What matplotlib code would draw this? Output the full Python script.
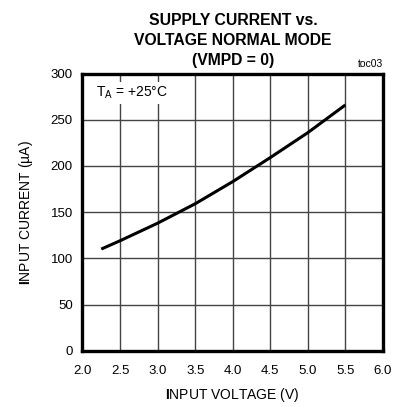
import matplotlib
matplotlib.use('Agg')
import matplotlib.pyplot as plt

plt.rcParams['font.family'] = ['Liberation Sans', 'DejaVu Sans']
plt.rcParams['mathtext.fontset'] = 'custom'
plt.rcParams['mathtext.rm'] = 'Liberation Sans'
plt.rcParams['mathtext.bf'] = 'Liberation Sans:bold'

# 读取的曲线数据
voltage = [2.25, 2.5, 3.0, 3.5, 4.0, 4.5, 5.0, 5.5]
current = [110, 119, 138, 159, 183, 209, 236, 266]

x_ticks = [2.0, 2.5, 3.0, 3.5, 4.0, 4.5, 5.0, 5.5, 6.0]
y_ticks = [0, 50, 100, 150, 200, 250, 300]

fig = plt.figure(figsize=(4.01, 4.07), dpi=100)
ax = fig.add_axes([0.2057, 0.1383, 0.7493, 0.6811])

ax.plot(voltage, current, color='black', linewidth=2.2, solid_capstyle='butt')

ax.set_xlim(2.0, 6.0)
ax.set_ylim(0, 300)
ax.set_xticks(x_ticks)
ax.set_yticks(y_ticks)
ax.set_xticklabels(['%.1f' % v for v in x_ticks], fontsize=9.5)
ax.set_yticklabels([str(v) for v in y_ticks], fontsize=9.5)
ax.tick_params(length=0, pad=7)
ax.tick_params(axis='x', pad=10)
ax.grid(True, color='#444444', linewidth=1.0)
ax.set_axisbelow(True)
for s in ax.spines.values():
    s.set_linewidth(2.4)

ax.set_xlabel(r'$\mathbf{I}$NPUT VOLTAGE (V)', fontsize=10, labelpad=7)
ax.set_ylabel(r'$\mathbf{I}$NPUT CURRENT (µA)', fontsize=10, labelpad=11)

fig.text(0.581, 0.967, 'SUPPLY CURRENT vs.\nVOLTAGE NORMAL MODE\n(VMPD = 0)',
         ha='center', va='top', fontsize=11.3, fontweight='bold', linespacing=1.38)
fig.text(0.955, 0.83, 'toc03', ha='right', va='bottom', fontsize=7.5)

ax.text(0.045, 0.93, r'$\mathregular{T_A}$ = +25°C', transform=ax.transAxes,
        ha='left', va='center', fontsize=10,
        bbox=dict(facecolor='white', edgecolor='none', pad=2))

fig.savefig('out.png', dpi=100)
